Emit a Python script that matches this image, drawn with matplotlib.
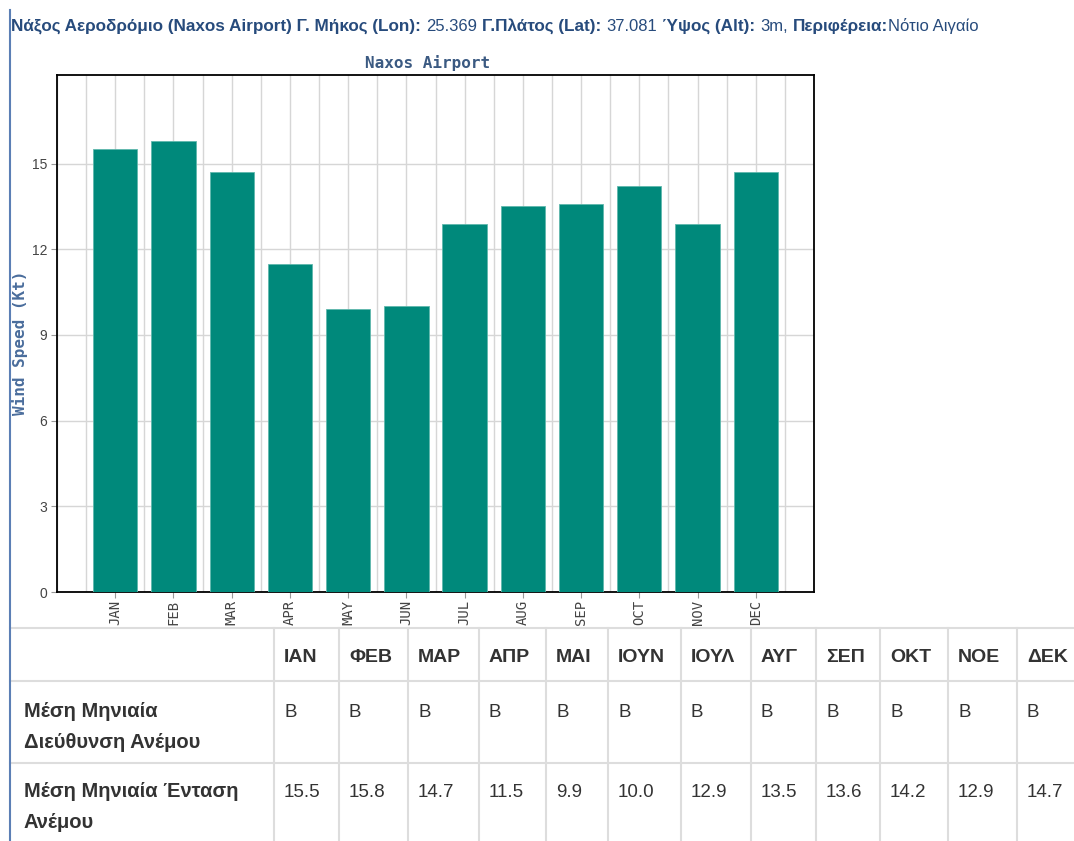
import matplotlib
matplotlib.use("Agg")
import matplotlib.pyplot as plt
from matplotlib.lines import Line2D
from matplotlib.ticker import MultipleLocator

# --- data ---
months_en = ['JAN', 'FEB', 'MAR', 'APR', 'MAY', 'JUN',
             'JUL', 'AUG', 'SEP', 'OCT', 'NOV', 'DEC']
months_gr = ['ΙΑΝ', 'ΦΕΒ', 'ΜΑΡ', 'ΑΠΡ', 'ΜΑΙ', 'ΙΟΥΝ',
             'ΙΟΥΛ', 'ΑΥΓ', 'ΣΕΠ', 'ΟΚΤ', 'ΝΟΕ', 'ΔΕΚ']
wind_speed = [15.5, 15.8, 14.7, 11.5, 9.9, 10.0, 12.9, 13.5, 13.6, 14.2, 12.9, 14.7]
wind_dir = ['Β', 'Β', 'Β', 'Β', 'Β', 'Β', 'Β', 'Β', 'Β', 'Β', 'Β', 'Β']
row_labels = ['Μέση Μηνιαία\nΔιεύθυνση Ανέμου', 'Μέση Μηνιαία Ένταση\nΑνέμου']
header_parts = [
    ('Νάξος Αεροδρόμιο (Naxos Airport) Γ. Μήκος (Lon):', True, 1),
    ('25.369', False, 1),
    ('Γ.Πλάτος (Lat):', True, 1),
    ('37.081', False, 1),
    ('Ύψος (Alt):', True, 1),
    ('3m,', False, 1),
    ('Περιφέρεια:', True, 0),
    ('Νότιο Αιγαίο', False, 0),
]

W, H = 1074, 841
fig = plt.figure(figsize=(W / 100, H / 100), dpi=100)
plt.rcParams['font.family'] = ['Liberation Sans', 'DejaVu Sans']


def fx(x):
    return x / W


def fy(y):
    return 1 - y / H


# --- chart ---
ax = fig.add_axes([fx(57), fy(592), fx(814) - fx(57), fy(75) - fy(592)])
x = list(range(len(months_en)))
ax.bar(x, wind_speed, width=0.76, color='#00897b', edgecolor='#5fb8ad',
       linewidth=0.6, zorder=3)
ax.set_xlim(-1, 12)
ax.set_ylim(0, 18.1)
ax.set_xticks(x)
ax.set_xticklabels(months_en, rotation=90, family='DejaVu Sans Mono',
                   fontsize=10, color='#444444')
ax.xaxis.set_minor_locator(MultipleLocator(0.5))
ax.set_yticks([0, 3, 6, 9, 12, 15])
ax.tick_params(axis='y', labelsize=10, labelcolor='#444444', length=4,
               color='#999999', pad=3)
ax.tick_params(axis='x', which='major', length=4, color='#999999', pad=2)
ax.tick_params(axis='x', which='minor', length=0)
ax.grid(True, which='both', color='#d6d6d6', linewidth=1, zorder=0)
ax.set_axisbelow(True)
for sp in ax.spines.values():
    sp.set_color('black')
    sp.set_linewidth(1.3)

fig.text(fx(428), fy(68), 'Naxos Airport', ha='center', va='baseline',
         family='DejaVu Sans Mono', fontweight='bold', fontsize=11.5,
         color='#3b5a82')
fig.text(fx(20), fy(343), 'Wind Speed (Kt)', rotation=90, ha='center',
         va='center', family='DejaVu Sans Mono', fontweight='bold',
         fontsize=11.5, color='#4a6d9c')

# header line with bold / regular pieces
renderer = fig.canvas.get_renderer()
cx = 11
for txt, bold, gap in header_parts:
    t = fig.text(fx(cx), fy(31), txt, ha='left', va='baseline',
                 fontsize=12.3 if bold else 12,
                 fontweight='bold' if bold else 'normal', color='#274b7c')
    bb = t.get_window_extent(renderer)
    cx += bb.width + gap * 5

# --- table ---
col_edges = [10, 274, 339, 408, 479, 546, 608, 681, 751, 816, 880, 948, 1017, 1090]
row_edges = [628, 681, 763, 841]
grid_c = '#dddddd'
for yy in row_edges[:-1]:
    fig.add_artist(Line2D([fx(10), fx(W)], [fy(yy), fy(yy)], color=grid_c,
                          linewidth=1.5))
for xx in col_edges[1:-1]:
    fig.add_artist(Line2D([fx(xx), fx(xx)], [fy(628), fy(841)], color=grid_c,
                          linewidth=1.5))

# page left border
fig.add_artist(Line2D([fx(10), fx(10)], [fy(10), fy(841)], color='#5b7fb5',
                      linewidth=1.5, zorder=5))

bold_fs = 14
reg_fs = 13.5
txt_c = '#333333'
for i, m in enumerate(months_gr):
    fig.text(fx(col_edges[i + 1] + 10), fy(662), m, ha='left', va='baseline',
             fontsize=bold_fs, fontweight='bold', color=txt_c)
    fig.text(fx(col_edges[i + 1] + 10), fy(717), wind_dir[i], ha='left',
             va='baseline', fontsize=reg_fs, color=txt_c)
    fig.text(fx(col_edges[i + 1] + 10), fy(797), f'{wind_speed[i]:.1f}',
             ha='left', va='baseline', fontsize=reg_fs, color=txt_c)

for base, lab in zip([717, 797], row_labels):
    for k, line in enumerate(lab.split('\n')):
        fig.text(fx(24), fy(base + 31 * k), line, ha='left', va='baseline',
                 fontsize=14.5, fontweight='bold', color=txt_c)

fig.savefig('out.png', dpi=100, facecolor='white')
